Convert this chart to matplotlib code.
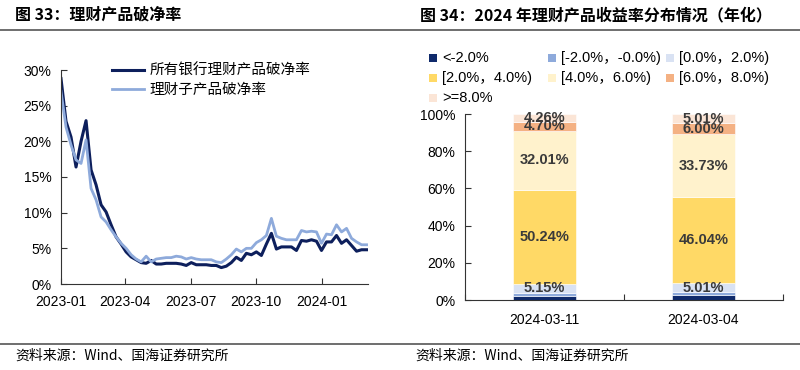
import matplotlib.pyplot as plt
import matplotlib.dates as mdates
from matplotlib.patches import Rectangle
from matplotlib.lines import Line2D
import numpy as np
import pandas as pd

plt.rcParams['font.family'] = ['Liberation Sans', 'Noto Sans CJK SC', 'DejaVu Sans']
cjk = ['Noto Sans CJK SC', 'Liberation Sans', 'DejaVu Sans']

# ---- left chart data (weekly, %)
dates = pd.date_range('2023-01-01', periods=62, freq='7D')
all_bank = [28.8, 22.8, 20.6, 16.4, 20.0, 22.9, 16.0, 13.9, 11.1, 10.1,
            8.3, 6.6, 5.6, 4.5, 3.8, 3.4, 3.0, 2.9, 3.3, 2.8,
            2.8, 2.9, 2.9, 2.9, 2.8, 2.6, 3.0, 2.7, 2.7, 2.7,
            2.6, 2.6, 2.3, 2.5, 3.0, 3.75, 3.3, 4.3, 4.1, 4.5,
            4.0, 5.6, 7.1, 4.9, 5.2, 5.2, 5.2, 4.7, 6.1, 6.0,
            6.2, 6.0, 4.7, 5.9, 5.9, 6.8, 5.7, 6.2, 5.4, 4.6,
            4.8, 4.8]
sub_company = [27.0, 22.0, 19.5, 17.4, 16.9, 20.2, 13.4, 11.8, 9.4, 8.7,
               7.6, 6.6, 5.7, 5.0, 4.1, 3.5, 3.1, 3.9, 3.1, 3.5,
               3.6, 3.7, 3.7, 3.9, 3.8, 3.5, 3.7, 3.5, 3.4, 3.4,
               3.4, 3.1, 3.0, 3.5, 4.1, 4.9, 4.5, 5.0, 5.0, 5.8,
               6.2, 6.8, 9.2, 6.7, 6.4, 6.2, 6.2, 6.2, 7.5, 7.3,
               7.4, 7.3, 5.7, 7.0, 6.9, 8.3, 7.3, 7.8, 6.4, 5.9,
               5.5, 5.5]

# ---- right chart data (%)
periods = ['2024-03-11', '2024-03-04']
bins = ['<-2.0%', '[-2.0%，-0.0%)', '[0.0%，2.0%)', '[2.0%，4.0%)',
        '[4.0%，6.0%)', '[6.0%，8.0%)', '>=8.0%']
shares = [[2.10, 2.70],
          [1.54, 1.51],
          [5.15, 5.01],
          [50.24, 46.04],
          [32.01, 33.73],
          [4.70, 6.00],
          [4.26, 5.01]]
bin_colors = ['#0f2a6b', '#8eaadb', '#d9e2f3', '#ffd966', '#fff2cc', '#f4b183', '#fbe5d6']

fig = plt.figure(figsize=(8, 3.7), dpi=100)
W, H = 800, 370

def fx(px):
    return px / W

def fy(py):
    return 1 - py / H

# titles, rules, sources
fig.text(fx(15), fy(15), '图 33：理财产品破净率', fontsize=11.5, fontweight='bold',
         family=cjk, va='center', ha='left')
fig.text(fx(420), fy(15), '图 34：2024 年理财产品收益率分布情况（年化）', fontsize=11.5,
         fontweight='bold', family=cjk, va='center', ha='left')
fig.add_artist(Line2D([0, 1], [fy(30), fy(30)], color='#555555', lw=1.2))
fig.add_artist(Line2D([0, 1], [fy(344), fy(344)], color='#555555', lw=1.2))
fig.text(fx(15), fy(356), '资料来源：Wind、国海证券研究所', fontsize=10, family=cjk, va='center')
fig.text(fx(415), fy(356), '资料来源：Wind、国海证券研究所', fontsize=10, family=cjk, va='center')

# ---- left chart
ax1 = fig.add_axes([fx(61), fy(284), fx(368 - 61), fy(70) - fy(284)])
ax1.plot(dates, all_bank, color='#0d1f5c', lw=2.2, label='所有银行理财产品破净率')
ax1.plot(dates, sub_company, color='#8eaadb', lw=2.0, label='理财子产品破净率')
ax1.set_ylim(0, 30)
ax1.set_yticks(np.arange(0, 31, 5))
ax1.set_yticklabels([f'{v}%' for v in range(0, 31, 5)])
ax1.set_xlim(dates[0], dates[-1] + pd.Timedelta(days=2))
ax1.set_xticks(pd.to_datetime(['2023-01-01', '2023-04-01', '2023-07-01', '2023-10-01', '2024-01-01']))
ax1.xaxis.set_major_formatter(mdates.DateFormatter('%Y-%m'))
for s in ['top', 'right']:
    ax1.spines[s].set_visible(False)
for s in ['left', 'bottom']:
    ax1.spines[s].set_color('#333333')
ax1.tick_params(direction='in', length=4, labelsize=10, color='#333333')
ax1.tick_params(axis='x', pad=8)
ax1.tick_params(axis='y', pad=7)
leg = ax1.legend(loc='upper left', bbox_to_anchor=(fx(106), fy(58)),
                 bbox_transform=fig.transFigure, frameon=False, prop={'family': cjk, 'size': 10.5},
                 handlelength=2.2, handletextpad=0.4, labelspacing=0.35, borderaxespad=0)

# ---- right chart
ax2 = fig.add_axes([fx(465), fy(300), fx(783 - 465), fy(114) - fy(300)])
xpos = np.arange(len(periods))
bottom = np.zeros(len(periods))
for k, (vals, col) in enumerate(zip(shares, bin_colors)):
    vals = np.array(vals)
    ax2.bar(xpos, vals, width=0.4, bottom=bottom, color=col, edgecolor='white', lw=0.4)
    if k >= 2:
        for xi, v, b in zip(xpos, vals, bottom):
            ax2.text(xi, b + v / 2, f'{v:.2f}%', ha='center', va='center',
                     fontsize=10.5, fontweight='bold', color='#3a3a3a')
    bottom += vals
ax2.set_xlim(-0.5, 1.5)
ax2.set_ylim(0, 100)
ax2.set_yticks(np.arange(0, 101, 20))
ax2.set_yticklabels([f'{v}%' for v in range(0, 101, 20)])
ax2.set_xticks([-0.5, 0.5, 1.5])
ax2.set_xticklabels([])
ax2.set_xticks(xpos, minor=True)
ax2.set_xticklabels(periods, minor=True)
ax2.tick_params(axis='x', which='minor', length=0, pad=9, labelsize=10)
ax2.tick_params(axis='x', which='major', direction='in', length=4, color='#333333')
ax2.tick_params(axis='y', direction='in', length=4, pad=7, labelsize=10, color='#333333')
for s in ['top', 'right']:
    ax2.spines[s].set_visible(False)
for s in ['left', 'bottom']:
    ax2.spines[s].set_color('#333333')

# legend for right chart, three per row
for k, (lab, col) in enumerate(zip(bins, bin_colors)):
    r, c = divmod(k, 3)
    x0 = 429 + 118.5 * c
    y0 = 58 + 20 * r
    fig.add_artist(Rectangle((fx(x0), fy(y0 + 4)), fx(8), fy(y0 - 4) - fy(y0 + 4),
                             transform=fig.transFigure, color=col, lw=0))
    fig.text(fx(x0 + 13), fy(y0), lab, fontsize=10.5, va='center', ha='left')

fig.savefig('out.png', dpi=100)
